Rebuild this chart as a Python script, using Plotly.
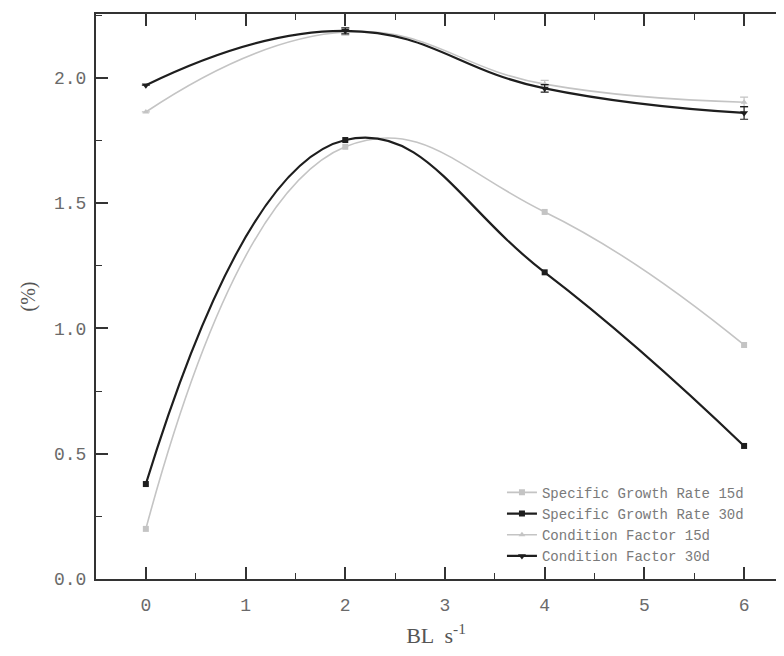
import plotly.graph_objects as go

speeds = [0, 2, 4, 6]
sgr_15d = [0.20, 1.725, 1.465, 0.934]
sgr_30d = [0.379, 1.752, 1.224, 0.531]
cf_15d = [1.864, 2.183, 1.975, 1.903]
cf_30d = [1.971, 2.188, 1.958, 1.860]
cf_15d_err = [0.0, 0.012, 0.015, 0.02]
cf_30d_err = [0.0, 0.012, 0.015, 0.025]

names = ["Specific Growth Rate 15d", "Specific Growth Rate 30d",
         "Condition Factor 15d", "Condition Factor 30d"]
x_ticks = [0, 1, 2, 3, 4, 5, 6]
y_ticks = [0.0, 0.5, 1.0, 1.5, 2.0]

LIGHT = "#c4c4c4"
DARK = "#1e1e1e"
SMOOTH = 1.3

fig = go.Figure()
fig.add_trace(go.Scatter(x=speeds, y=sgr_15d, name=names[0], mode="lines+markers",
                         line=dict(color=LIGHT, width=1.6, shape="spline", smoothing=SMOOTH),
                         marker=dict(symbol="square", size=6, color=LIGHT)))
fig.add_trace(go.Scatter(x=speeds, y=sgr_30d, name=names[1], mode="lines+markers",
                         line=dict(color=DARK, width=2.2, shape="spline", smoothing=SMOOTH),
                         marker=dict(symbol="square", size=6, color=DARK)))
fig.add_trace(go.Scatter(x=speeds, y=cf_15d, name=names[2], mode="lines+markers",
                         line=dict(color=LIGHT, width=1.6, shape="spline", smoothing=SMOOTH),
                         marker=dict(symbol="triangle-up", size=6, color=LIGHT),
                         error_y=dict(type="data", array=cf_15d_err, color=LIGHT, thickness=1.2, width=4)))
fig.add_trace(go.Scatter(x=speeds, y=cf_30d, name=names[3], mode="lines+markers",
                         line=dict(color=DARK, width=2.2, shape="spline", smoothing=SMOOTH),
                         marker=dict(symbol="triangle-down", size=7, color=DARK),
                         error_y=dict(type="data", array=cf_30d_err, color=DARK, thickness=1.2, width=4)))

axis_common = dict(showline=True, linecolor="#333333", linewidth=2,
                   ticks="inside", tickcolor="#333333", tickwidth=1.5, ticklen=12,
                   showgrid=False, zeroline=False, automargin=False,
                   tickfont=dict(family="Liberation Mono", size=18, color="#6a6a6a"))

fig.update_xaxes(range=[-0.5, 6.32], tickvals=x_ticks, ticklabelstandoff=8, mirror="ticks",
                 minor=dict(ticks="inside", ticklen=6, tickwidth=1.2, tickcolor="#333333", dtick=0.5),
                 title=dict(text="BL  s<sup>-1</sup>", font=dict(family="Liberation Serif", size=22, color="#555555"), standoff=16),
                 **axis_common)
fig.update_yaxes(range=[0, 2.255], tickvals=y_ticks, tickformat=".1f", ticklabelstandoff=4, mirror=False,
                 minor=dict(ticks="inside", ticklen=6, tickwidth=1.2, tickcolor="#333333", dtick=0.25),
                 title=dict(text="(%)", font=dict(family="Liberation Serif", size=20, color="#555555"), standoff=13),
                 **axis_common)

fig.update_layout(width=768, height=640, margin=dict(l=88, r=0, t=6, b=69),
                  paper_bgcolor="white", plot_bgcolor="white",
                  legend=dict(x=0.597, y=0.181, xanchor="left", yanchor="top",
                              bgcolor="rgba(0,0,0,0)", tracegroupgap=0,
                              font=dict(family="Liberation Mono", size=14, color="#7a7a7a")),
                  showlegend=True)

fig.write_html("out.html")
